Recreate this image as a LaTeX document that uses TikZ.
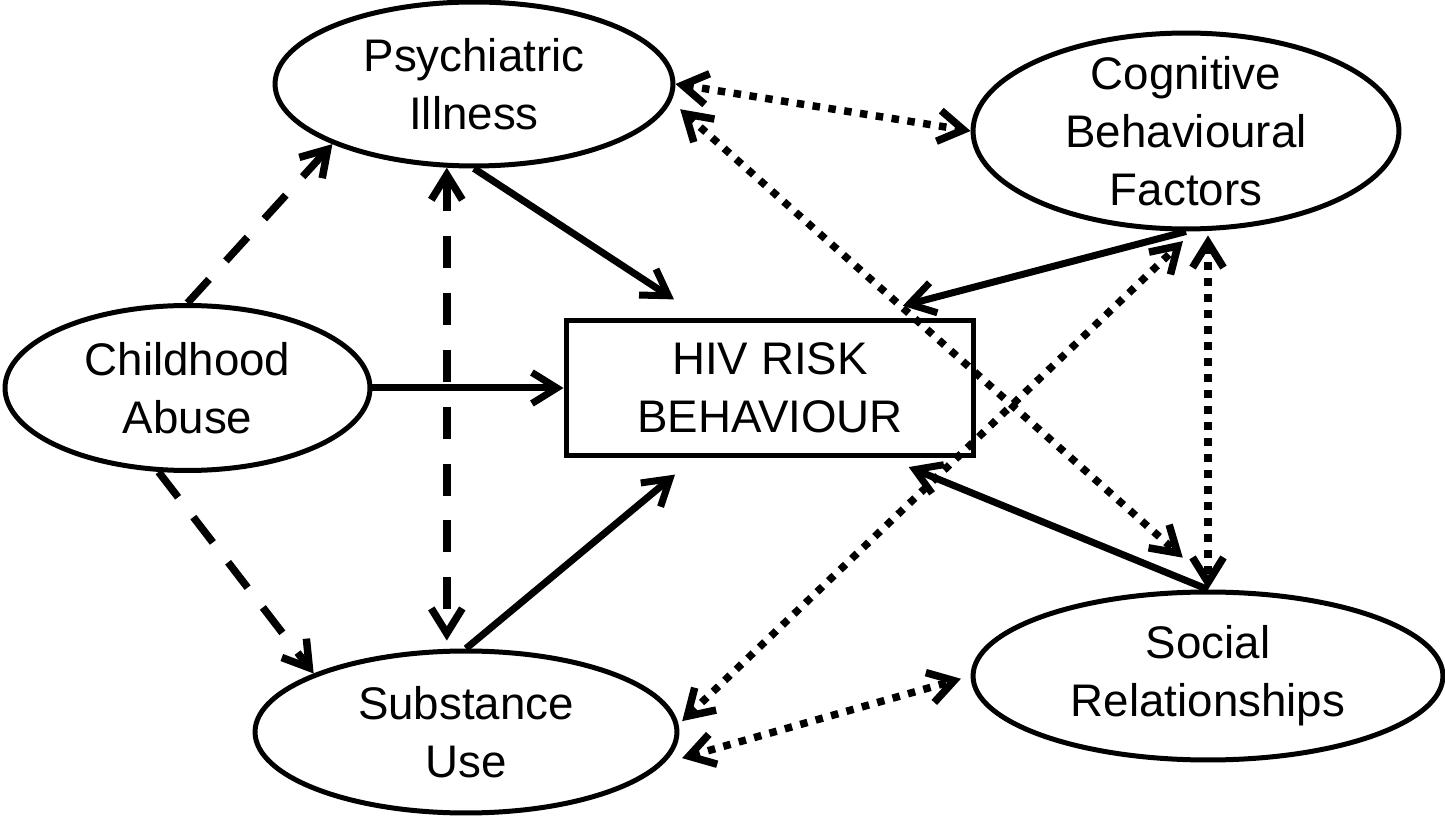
\documentclass[tikz,border=0pt]{standalone}
\usepackage{fontspec}
\setmainfont{Liberation Sans}
\usetikzlibrary{arrows.meta,shapes.geometric}
\begin{document}
\begin{tikzpicture}[x=0.02cm,y=-0.02cm,
  every node/.style={font=\fontsize{26pt}{33pt}\selectfont, align=center},
  oval/.style={ellipse, draw, line width=0.1cm, inner sep=-1cm},
  boxnode/.style={rectangle, draw, line width=0.1cm, inner sep=0pt},
  onetip/.style={-{Straight Barb[length=0.5cm,width=0.62cm]}},
  twotips/.style={{Straight Barb[length=0.5cm,width=0.62cm]}-{Straight Barb[length=0.5cm,width=0.62cm]}},
  solidline/.style={line width=0.14cm},
  dashline/.style={line width=0.15cm, dash pattern=on 0.64cm off 0.5cm},
  dotline/.style={line width=0.15cm, dash pattern=on 0.15cm off 0.17cm}
]
\useasboundingbox (0,0) rectangle (1445,817);

\node[oval, minimum width=7.96cm, minimum height=3.28cm] (psy) at (474,84) {Psychiatric\\Illness};
\node[oval, minimum width=8.52cm, minimum height=3.92cm] (cog) at (1186,131) {Cognitive\\Behavioural\\Factors};
\node[oval, minimum width=7.3cm, minimum height=3.3cm] (chi) at (187.5,388) {Childhood\\Abuse};
\node[boxnode, minimum width=8.16cm, minimum height=2.7cm] (hiv) at (770,388) {HIV RISK\\BEHAVIOUR};
\node[oval, minimum width=8.44cm, minimum height=3.24cm] (sub) at (466,732) {Substance\\Use};
\node[oval, minimum width=9.4cm, minimum height=3.36cm] (soc) at (1208,676) {Social\\Relationships};

% dashed
\draw[dashline, onetip] (chi.north) -- (psy.203);
\draw[dashline, twotips, shorten >=0.16cm] (psy.252) -- (psy.252 |- sub.north);
\draw[dashline, onetip] (chi.251) -- (sub.159);

% solid
\draw[solidline, onetip, shorten >=0.68cm] (psy.south) -- (hiv.134);
\draw[solidline, onetip] (chi.east) -- (hiv.west);
\draw[solidline, onetip, shorten >=0.52cm] (sub.north) -- (hiv.223);
\draw[solidline, onetip, shorten >=0.96cm] (cog.south) -- (hiv.39);
\draw[solidline, onetip, shorten >=0.48cm] (soc.north) -- (hiv.329);

% dotted
\draw[dotline, twotips] (psy.east) -- (cog.west);
\draw[dotline, twotips, shorten <=0.24cm, shorten >=0.96cm] (psy.355) -- (soc.83);
\draw[dotline, twotips, shorten <=0.1cm, shorten >=0.28cm] (sub.2) -- (cog.274);
\draw[dotline, twotips, shorten <=0.38cm, shorten >=0.2cm] (sub.351) -- (soc.west);
\draw[dotline, twotips, shorten <=0.08cm] (soc.north |- cog.south) -- (soc.north);
\end{tikzpicture}
\end{document}
